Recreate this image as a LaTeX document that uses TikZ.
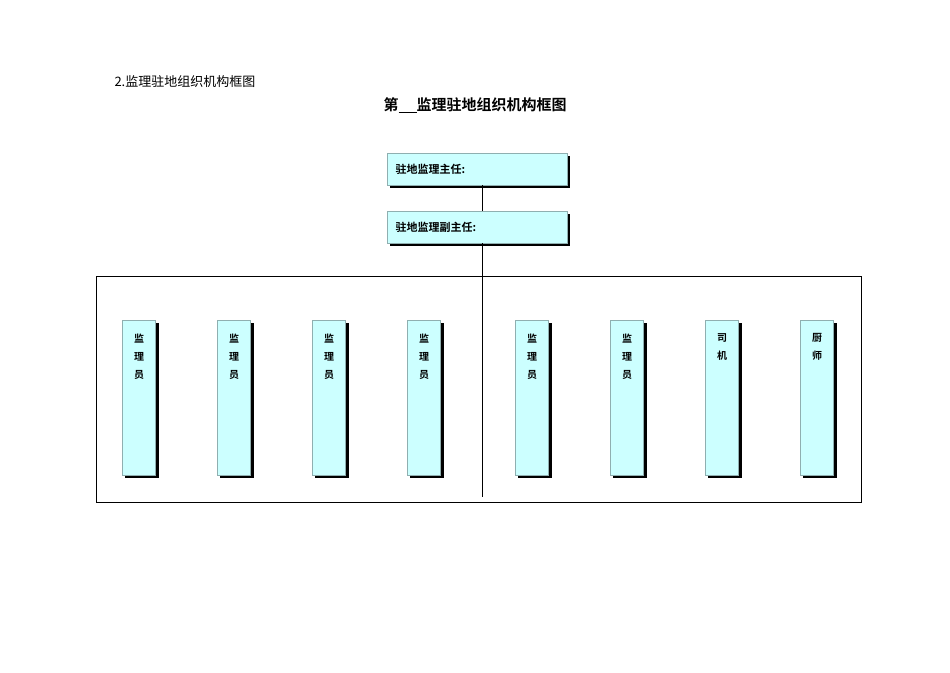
\documentclass[tikz,border=0pt]{standalone}
\usepackage{fontspec}
\newfontfamily\cjk{Noto Sans CJK SC}
\newfontfamily\cjkb{Noto Sans CJK SC Bold}
\definecolor{boxfill}{HTML}{CCFFFF}
\definecolor{boxline}{HTML}{8FAFB0}
\begin{document}
\begin{tikzpicture}[x=1pt,y=-1pt,
  box/.style={draw=boxline,fill=boxfill,line width=0.6pt},
  shad/.style={fill=black},
  lbl/.style={font=\cjkb\fontsize{11}{13}\selectfont,anchor=west}]
\useasboundingbox[fill=white] (0,0) rectangle (950,672);
\node[font=\cjk\fontsize{13}{15}\selectfont,anchor=west] (t1) at (111,82) {2.监理驻地组织机构框图};
\node[font=\cjkb\fontsize{15}{17}\selectfont] (t2) at (475,105) {第\underline{\hspace{18pt}}监理驻地组织机构框图};
% top boxes
\fill[shad] (390,156) rectangle (570,188);
\draw[box] (387,153) rectangle (567,185);
\node[lbl] (a) at (392,169) {驻地监理主任:};
\fill[shad] (390,214) rectangle (570,246);
\draw[box] (387,211) rectangle (567,243);
\node[lbl] (b) at (392,227) {驻地监理副主任:};
\coordinate (a1) at (482,185); \coordinate (b0) at (482,211);
\coordinate (b1) at (482,243); \coordinate (e) at (482,497);
\draw[line width=0.7pt] (a1) -- (b0);
\draw[line width=0.7pt] (96,276) rectangle (861,502);
\draw[line width=0.7pt] (b1) -- (e);
\foreach \x/\t in {139/{监\\[6pt]理\\[6pt]员},234/{监\\[6pt]理\\[6pt]员},329/{监\\[6pt]理\\[6pt]员},424/{监\\[6pt]理\\[6pt]员},532/{监\\[6pt]理\\[6pt]员},627/{监\\[6pt]理\\[6pt]员},722/{司\\[6pt]机},817/{厨\\[6pt]师}}{
  \fill[shad] (\x-14,323) rectangle (\x+19.5,478);
  \draw[box] (\x-16.5,320) rectangle (\x+16.5,475);
  \node[font=\cjkb\fontsize{10}{12}\selectfont,align=center,anchor=north] (n\x) at (\x,330) {\t};
}
\end{tikzpicture}
\end{document}
